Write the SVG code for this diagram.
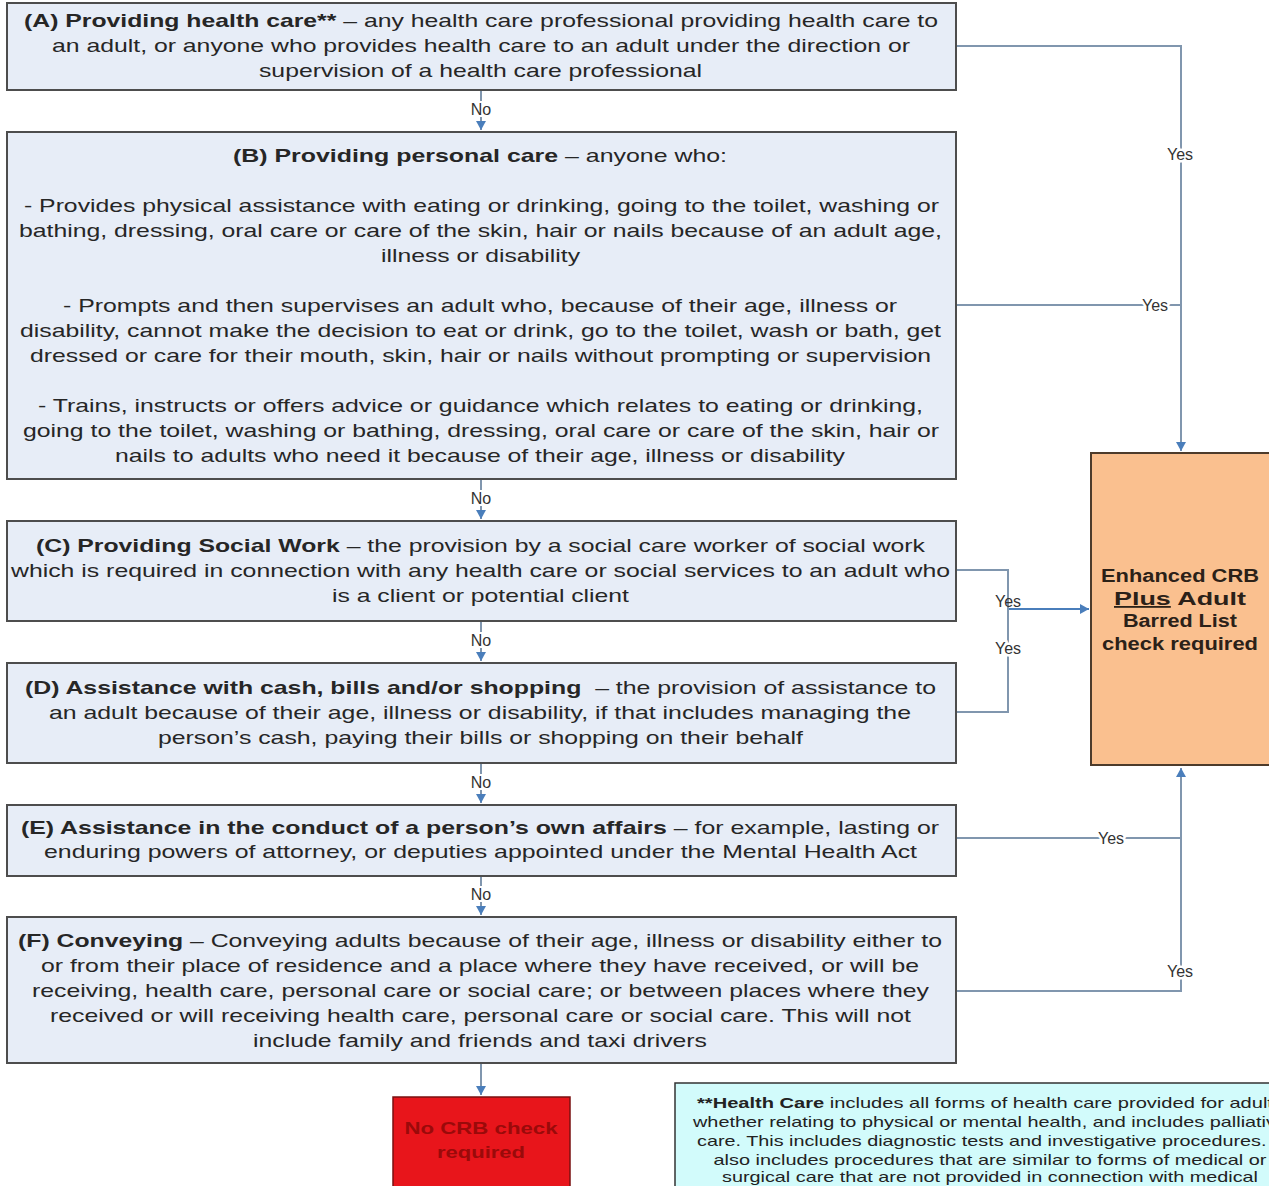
<svg xmlns="http://www.w3.org/2000/svg" width="1269" height="1186" viewBox="0 0 1269 1186">
<style>
.box{fill:#e7edf7;stroke:#4d4d4d;stroke-width:2}
.t{font-family:"Liberation Sans",Arial,sans-serif;font-size:19px;fill:#262626}
.b{font-weight:bold}
.con{fill:none;stroke:#8096ae;stroke-width:2}
.lbl{font-family:"Liberation Sans",Arial,sans-serif;font-size:16px;fill:#333;text-anchor:middle;stroke:#fff;stroke-width:5;paint-order:stroke;stroke-linejoin:round}
.no{font-family:"Liberation Sans",Arial,sans-serif;font-size:16px;fill:#333;text-anchor:middle;stroke:#fff;stroke-width:4;paint-order:stroke}
.ok{font-family:"Liberation Sans",Arial,sans-serif;font-size:18px;font-weight:bold;fill:#2b2118;text-anchor:middle}
.note{font-family:"Liberation Sans",Arial,sans-serif;font-size:15px;fill:#222;text-anchor:middle}
</style>
<defs>
<marker id="ah" markerUnits="userSpaceOnUse" markerWidth="12" markerHeight="12" refX="9" refY="5" orient="auto">
<path d="M0,0 L9,5 L0,10 Z" fill="#4a7ebb"/>
</marker>
</defs>
<rect width="1269" height="1186" fill="#ffffff"/>

<g id="connectors">
<line class="con" x1="481" y1="91" x2="481" y2="130" marker-end="url(#ah)"/>
<line class="con" x1="481" y1="480" x2="481" y2="519" marker-end="url(#ah)"/>
<line class="con" x1="481" y1="622" x2="481" y2="661" marker-end="url(#ah)"/>
<line class="con" x1="481" y1="764" x2="481" y2="803" marker-end="url(#ah)"/>
<line class="con" x1="481" y1="877" x2="481" y2="915" marker-end="url(#ah)"/>
<line class="con" x1="481" y1="1064" x2="481" y2="1095" marker-end="url(#ah)"/>
<text class="no" x="481" y="115">No</text>
<text class="no" x="481" y="504">No</text>
<text class="no" x="481" y="646">No</text>
<text class="no" x="481" y="788">No</text>
<text class="no" x="481" y="900">No</text>
<polyline class="con" points="957,46 1181,46 1181,451" marker-end="url(#ah)"/>
<line class="con" x1="957" y1="305" x2="1181" y2="305"/>
<polyline class="con" points="957,570 1008,570 1008,712 957,712"/>
<line x1="1009" y1="609" x2="1089" y2="609" stroke="#4a7ebb" stroke-width="2" marker-end="url(#ah)"/>
<line class="con" x1="957" y1="838" x2="1181" y2="838"/>
<polyline class="con" points="957,991 1181,991 1181,768" marker-end="url(#ah)"/>
<text class="lbl" x="1180" y="160">Yes</text>
<text class="lbl" x="1155" y="311">Yes</text>
<text x="1008" y="607" style="font-family:'Liberation Sans',Arial,sans-serif;font-size:16px;fill:#333;text-anchor:middle">Yes</text>
<text class="lbl" x="1008" y="654">Yes</text>
<text class="lbl" x="1111" y="844">Yes</text>
<text class="lbl" x="1180" y="977">Yes</text>
</g>

<g id="nodeA">
<rect class="box" x="7" y="3" width="949" height="87"/>
<text class="t" x="24" y="27" textLength="914" lengthAdjust="spacingAndGlyphs"><tspan class="b">(A) Providing health care**</tspan> – any health care professional providing health care to</text>
<text class="t" x="52" y="52" textLength="858" lengthAdjust="spacingAndGlyphs">an adult, or anyone who provides health care to an adult under the direction or</text>
<text class="t" x="259" y="77" textLength="443" lengthAdjust="spacingAndGlyphs">supervision of a health care professional</text>
</g>

<g id="nodeB">
<rect class="box" x="7" y="132" width="949" height="347"/>
<text class="t" x="233" y="162" textLength="494" lengthAdjust="spacingAndGlyphs"><tspan class="b">(B) Providing personal care</tspan> – anyone who:</text>
<text class="t" x="24" y="212" textLength="915" lengthAdjust="spacingAndGlyphs">- Provides physical assistance with eating or drinking, going to the toilet, washing or</text>
<text class="t" x="19" y="237" textLength="923" lengthAdjust="spacingAndGlyphs">bathing, dressing, oral care or care of the skin, hair or nails because of an adult age,</text>
<text class="t" x="381" y="262" textLength="199" lengthAdjust="spacingAndGlyphs">illness or disability</text>
<text class="t" x="63" y="312" textLength="834" lengthAdjust="spacingAndGlyphs">- Prompts and then supervises an adult who, because of their age, illness or</text>
<text class="t" x="20" y="337" textLength="921" lengthAdjust="spacingAndGlyphs">disability, cannot make the decision to eat or drink, go to the toilet, wash or bath, get</text>
<text class="t" x="30" y="362" textLength="901" lengthAdjust="spacingAndGlyphs">dressed or care for their mouth, skin, hair or nails without prompting or supervision</text>
<text class="t" x="38" y="412" textLength="885" lengthAdjust="spacingAndGlyphs">- Trains, instructs or offers advice or guidance which relates to eating or drinking,</text>
<text class="t" x="23" y="437" textLength="916" lengthAdjust="spacingAndGlyphs">going to the toilet, washing or bathing, dressing, oral care or care of the skin, hair or</text>
<text class="t" x="115" y="462" textLength="730" lengthAdjust="spacingAndGlyphs">nails to adults who need it because of their age, illness or disability</text>
</g>

<g id="nodeC">
<rect class="box" x="7" y="521" width="949" height="100"/>
<text class="t" x="36" y="552" textLength="889" lengthAdjust="spacingAndGlyphs"><tspan class="b">(C) Providing Social Work</tspan> – the provision by a social care worker of social work</text>
<text class="t" x="11" y="577" textLength="939" lengthAdjust="spacingAndGlyphs">which is required in connection with any health care or social services to an adult who</text>
<text class="t" x="332" y="602" textLength="297" lengthAdjust="spacingAndGlyphs">is a client or potential client</text>
</g>

<g id="nodeD">
<rect class="box" x="7" y="663" width="949" height="100"/>
<text class="t" x="25" y="694" textLength="911" lengthAdjust="spacingAndGlyphs" xml:space="preserve"><tspan class="b">(D) Assistance with cash, bills and/or shopping</tspan>  – the provision of assistance to</text>
<text class="t" x="49" y="719" textLength="862" lengthAdjust="spacingAndGlyphs">an adult because of their age, illness or disability, if that includes managing the</text>
<text class="t" x="158" y="744" textLength="645" lengthAdjust="spacingAndGlyphs">person’s cash, paying their bills or shopping on their behalf</text>
</g>

<g id="nodeE">
<rect class="box" x="7" y="805" width="949" height="71"/>
<text class="t" x="21" y="834" textLength="918" lengthAdjust="spacingAndGlyphs"><tspan class="b">(E) Assistance in the conduct of a person’s own affairs</tspan> – for example, lasting or</text>
<text class="t" x="44" y="858" textLength="873" lengthAdjust="spacingAndGlyphs">enduring powers of attorney, or deputies appointed under the Mental Health Act</text>
</g>

<g id="nodeF">
<rect class="box" x="7" y="917" width="949" height="146"/>
<text class="t" x="18" y="947" textLength="924" lengthAdjust="spacingAndGlyphs"><tspan class="b">(F) Conveying</tspan> – Conveying adults because of their age, illness or disability either to</text>
<text class="t" x="41" y="972" textLength="878" lengthAdjust="spacingAndGlyphs">or from their place of residence and a place where they have received, or will be</text>
<text class="t" x="32" y="997" textLength="897" lengthAdjust="spacingAndGlyphs">receiving, health care, personal care or social care; or between places where they</text>
<text class="t" x="50" y="1022" textLength="861" lengthAdjust="spacingAndGlyphs">received or will receiving health care, personal care or social care. This will not</text>
<text class="t" x="253" y="1047" textLength="454" lengthAdjust="spacingAndGlyphs">include family and friends and taxi drivers</text>
</g>

<g id="nodeCheck">
<rect x="1091" y="453" width="182" height="312" fill="#fac08f" stroke="#4d3b2b" stroke-width="2"/>
<text class="ok" x="1180" y="582" textLength="158" lengthAdjust="spacingAndGlyphs">Enhanced CRB</text>
<text class="ok" x="1180" y="605" textLength="132" lengthAdjust="spacingAndGlyphs"><tspan text-decoration="underline">Plus</tspan> Adult</text>
<text class="ok" x="1180" y="627" textLength="114" lengthAdjust="spacingAndGlyphs">Barred List</text>
<text class="ok" x="1180" y="650" textLength="156" lengthAdjust="spacingAndGlyphs">check required</text>
</g>

<g id="nodeNoCheck">
<rect x="393" y="1097" width="177" height="95" fill="#e8151b" stroke="#7a1010" stroke-width="1.5"/>
<text x="481" y="1134" style="font-family:'Liberation Sans',Arial,sans-serif;font-size:17px;font-weight:bold;fill:#9a0a0a;text-anchor:middle" textLength="153" lengthAdjust="spacingAndGlyphs">No CRB check</text>
<text x="481" y="1158" style="font-family:'Liberation Sans',Arial,sans-serif;font-size:17px;font-weight:bold;fill:#9a0a0a;text-anchor:middle" textLength="88" lengthAdjust="spacingAndGlyphs">required</text>
</g>

<g id="nodeNote">
<rect x="675" y="1083" width="620" height="120" fill="#d2fbfb" stroke="#333" stroke-width="1.5"/>
<text class="note" x="990" y="1108" textLength="586" lengthAdjust="spacingAndGlyphs"><tspan font-weight="bold">**Health Care</tspan> includes all forms of health care provided for adults</text>
<text class="note" x="990" y="1127" textLength="594" lengthAdjust="spacingAndGlyphs">whether relating to physical or mental health, and includes palliative</text>
<text class="note" x="990" y="1146" textLength="586" lengthAdjust="spacingAndGlyphs">care. This includes diagnostic tests and investigative procedures. It</text>
<text class="note" x="990" y="1165" textLength="553" lengthAdjust="spacingAndGlyphs">also includes procedures that are similar to forms of medical or</text>
<text class="note" x="990" y="1182" textLength="536" lengthAdjust="spacingAndGlyphs">surgical care that are not provided in connection with medical</text>
</g>
</svg>
